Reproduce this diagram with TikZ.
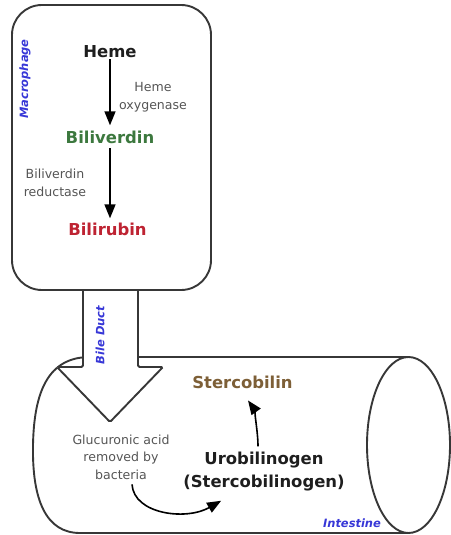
\documentclass[tikz,border=0pt]{standalone}
\usepackage{fontspec}
\setmainfont{DejaVu Sans}
\usetikzlibrary{arrows.meta,calc}
\definecolor{linec}{RGB}{55,55,55}
\definecolor{hemec}{RGB}{30,30,30}
\definecolor{smallc}{RGB}{85,85,85}
\definecolor{greenc}{RGB}{60,120,62}
\definecolor{redc}{RGB}{190,35,50}
\definecolor{brownc}{RGB}{125,95,55}
\definecolor{bluec}{RGB}{55,55,215}
\tikzset{
  frame/.style={draw=linec, line width=1.9bp},
  big/.style={font=\fontsize{16.5}{23}\selectfont\bfseries, inner sep=0pt, align=center},
  small/.style={font=\fontsize{12.6}{17.5}\selectfont, text=smallc, inner sep=0pt, align=center},
  lbl/.style={font=\fontsize{11.5}{14}\selectfont\bfseries\itshape, text=bluec, inner sep=0pt},
  arr/.style={draw=black, line width=1.6bp, -{Triangle[length=14bp,width=11bp]}},
}
\begin{document}
\begin{tikzpicture}[x=1bp,y=-1bp]
\useasboundingbox (0,0) rectangle (451,535);
% intestine cylinder
\draw[frame] (408.5,357) -- (90,357) .. controls (48,357) and (34,392) .. (33,445)
  .. controls (32,500) and (46,533) .. (80,533) -- (408.5,533);
\draw[frame, fill=white] (408.5,445) ellipse [x radius=41.5, y radius=88];
% bile duct arrow
\path[fill=white] (83,288) -- (83,367) -- (57,367) -- (110,422) -- (163,367) -- (138,367) -- (138,288) -- cycle;
\draw[frame, rounded corners=1.5] (83,290) -- (83,367) -- (57,367) -- (110,422) -- (163,367) -- (138,367) -- (138,290);
% macrophage box
\draw[frame, rounded corners=30] (12,5) rectangle (211,290);
% texts
\node[lbl, rotate=90] (macro) at (25,79) {Macrophage};
\node[lbl, rotate=90] (bile) at (100,335) {Bile Duct};
\node[lbl] (intest) at (352,523) {Intestine};
\node[big, text=hemec, anchor=base] (heme) at (110,58) {Heme};
\node[small, anchor=base] (ho1) at (153,92) {Heme};
\node[small, anchor=base] (ho2) at (153,109.5) {oxygenase};
\node[big, text=greenc, anchor=base] (biliv) at (110,144) {Biliverdin};
\node[small, anchor=base] (br1) at (55,179) {Biliverdin};
\node[small, anchor=base] (br2) at (55,196.5) {reductase};
\node[big, text=redc, anchor=base] (bilir) at (107.5,235) {Bilirubin};
\node[big, text=brownc, anchor=base] (sterco) at (242.5,388) {Stercobilin};
\node[small, anchor=base] (g1) at (121,444) {Glucuronic acid};
\node[small, anchor=base] (g2) at (121,461.5) {removed by};
\node[small, anchor=base] (g3) at (121,479) {bacteria};
\node[big, text=hemec, anchor=base] (uro1) at (264,464) {Urobilinogen};
\node[big, text=hemec, anchor=base] (uro2) at (264,487) {(Stercobilinogen)};
% arrows
\draw[arr] ($(heme.south)+(0,1)$) -- ($(biliv.north)+(0,-6)$);
\draw[arr] ($(biliv.south)+(0,4)$) -- ($(biliv.south |- bilir.north)+(0,-4)$);
\draw[arr] ($(uro1.north)+(-6,-5)$) .. controls +(0,-16) and +(5,7) .. ($(sterco.south)+(5.5,12)$);
\draw[arr] ($(g3.south)+(11,5)$) .. controls +(2,30) and +(-35,20) .. ($(uro2.south west)+(38,10)$);
\end{tikzpicture}
\end{document}
